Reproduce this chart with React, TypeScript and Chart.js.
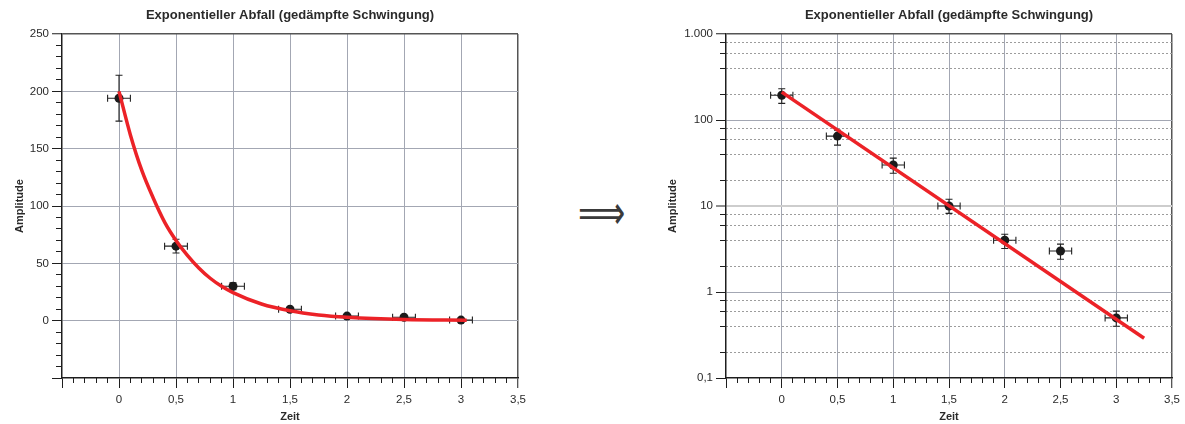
import React, { useEffect, useRef } from "react";
import { Chart, registerables } from "chart.js";

Chart.register(...registerables);

// ---------- text ----------
const TITLE = "Exponentieller Abfall (gedämpfte Schwingung)";
const X_TITLE = "Zeit";
const Y_TITLE = "Amplitude";
const ARROW = "⟹";

// ---------- measured data ----------
const times = [0, 0.5, 1, 1.5, 2, 2.5, 3];
const amplitudes = [194, 65, 30, 10, 4, 3, 0.5];
const timeErrors = [0.1, 0.1, 0.1, 0.1, 0.1, 0.1, 0.1];
// linear chart: symmetric amplitude errors
const linearAmpErrors = [20, 6, 3, 1, 0.6, 0.5, 0.1];
// log chart: lower / upper ends of the amplitude error bars
const logAmpLower = [156, 51, 24, 8.2, 3.2, 2.4, 0.4];
const logAmpUpper = [231, 76, 36, 12, 4.7, 3.6, 0.6];

// ---------- fitted curves ----------
const fitTimesLinear = [0, 0.1, 0.2, 0.3, 0.4, 0.5, 0.6, 0.7, 0.8, 0.9, 1, 1.25, 1.5, 1.75, 2, 2.5, 3.05];
const fitValuesLinear = [200, 162, 131, 107, 86, 70, 57, 46, 37, 30, 24.5, 14.5, 8.6, 5, 3, 1, 0.4];
const fitTimesLog = [0, 3.25];
const fitValuesLog = [211, 0.29];

// ---------- ticks ----------
const xMajorTicks = [-0.5, 0, 0.5, 1, 1.5, 2, 2.5, 3, 3.5];
const xTickLabels = ["", "0", "0,5", "1", "1,5", "2", "2,5", "3", "3,5"];
const yLinearTicks = [-50, 0, 50, 100, 150, 200, 250];
const yLinearLabels = ["", "0", "50", "100", "150", "200", "250"];
const yLogTicks = [0.1, 1, 10, 100, 1000];
const yLogLabels = ["0,1", "1", "10", "100", "1.000"];
const yLogMinorTicks = [0.2, 0.4, 0.6, 0.8, 2, 4, 6, 8, 20, 40, 60, 80, 200, 400, 600, 800];
const X_MINOR_STEP = 0.1;
const Y_LINEAR_MINOR_STEP = 10;

// ---------- style ----------
const FONT = "'Liberation Sans', Arial, Helvetica, sans-serif";
const GRID = "#a3a7b3";
const FRAME = "#555555";
const AXIS = "#1e1e1e";
const RED = "#ec2227";
const POINT = "#1b1b1b";
const TEXT = "#2a2a2a";

function minorValues(min: number, max: number, step: number, majorStep: number) {
  const out: number[] = [];
  const n = Math.round((max - min) / step);
  for (let i = 0; i <= n; i++) {
    const v = +(min + i * step).toFixed(6);
    const r = v / majorStep;
    if (Math.abs(r - Math.round(r)) > 1e-6) out.push(v);
  }
  return out;
}

const errorBarPlugin = {
  id: "errorBars",
  beforeDatasetsDraw(chart: any, _args: any, opts: any) {
    const { ctx, scales } = chart;
    const xs = scales.x;
    const ys = scales.y;
    const lower: number[] = opts.lower;
    const upper: number[] = opts.upper;
    const cap = 3.5;
    ctx.save();
    ctx.strokeStyle = "#222";
    ctx.lineWidth = 1.1;
    for (let i = 0; i < times.length; i++) {
      const px = xs.getPixelForValue(times[i]);
      const py = ys.getPixelForValue(amplitudes[i]);
      const xl = xs.getPixelForValue(times[i] - timeErrors[i]);
      const xr = xs.getPixelForValue(times[i] + timeErrors[i]);
      const yl = ys.getPixelForValue(lower[i]);
      const yu = ys.getPixelForValue(upper[i]);
      ctx.beginPath();
      ctx.moveTo(xl, py); ctx.lineTo(xr, py);
      ctx.moveTo(xl, py - cap); ctx.lineTo(xl, py + cap);
      ctx.moveTo(xr, py - cap); ctx.lineTo(xr, py + cap);
      ctx.moveTo(px, yl); ctx.lineTo(px, yu);
      ctx.moveTo(px - cap, yl); ctx.lineTo(px + cap, yl);
      ctx.moveTo(px - cap, yu); ctx.lineTo(px + cap, yu);
      ctx.stroke();
    }
    ctx.restore();
  },
};

function buildConfig(kind: "linear" | "log", yAxisWidth: number, padRight: number): any {
  const isLog = kind === "log";
  const tickFont = { family: FONT, size: 11.5 };
  const titleFont = { family: FONT, size: 11, weight: "bold" as const };
  const xMinor = minorValues(-0.5, 3.5, X_MINOR_STEP, 0.5);
  const yMinor = isLog ? yLogMinorTicks : minorValues(-50, 250, Y_LINEAR_MINOR_STEP, 50);
  const yMajor = isLog ? yLogTicks : yLinearTicks;
  const yLabels = isLog ? yLogLabels : yLinearLabels;
  const yMin = isLog ? 0.1 : -50;
  const yMax = isLog ? 1000 : 250;

  const fitT = isLog ? fitTimesLog : fitTimesLinear;
  const fitV = isLog ? fitValuesLog : fitValuesLinear;

  const lower = isLog ? logAmpLower : amplitudes.map((a, i) => a - linearAmpErrors[i]);
  const upper = isLog ? logAmpUpper : amplitudes.map((a, i) => a + linearAmpErrors[i]);

  const xGridColor = (c: any) => {
    const v = c.tick ? c.tick.value : null;
    if (v === -0.5) return "rgba(0,0,0,0)";
    if (v === 3.5) return FRAME;
    return GRID;
  };
  const yGridColor = (c: any) => {
    const v = c.tick ? c.tick.value : null;
    if (v === yMin) return "rgba(0,0,0,0)";
    if (v === yMax) return FRAME;
    if (isLog && v === 10) return "#cdcdcd";
    return GRID;
  };
  const yGridWidth = (c: any) => {
    const v = c.tick ? c.tick.value : null;
    if (v === yMax) return 1.5;
    if (isLog && v === 10) return 2;
    return 1;
  };
  const xGridWidth = (c: any) => {
    const v = c.tick ? c.tick.value : null;
    if (v === 3.5) return 1.5;
    return 1;
  };

  return {
    type: "scatter",
    data: {
      datasets: [
        {
          type: "line",
          label: "fit",
          data: fitT.map((t, i) => ({ x: t, y: fitV[i] })),
          borderColor: RED,
          borderWidth: 3.5,
          pointRadius: 0,
          fill: false,
          cubicInterpolationMode: "monotone",
          order: 0,
          xAxisID: "x",
          yAxisID: "y",
        },
        {
          type: "scatter",
          label: "Messwerte",
          data: times.map((t, i) => ({ x: t, y: amplitudes[i] })),
          backgroundColor: POINT,
          borderWidth: 0,
          pointRadius: 4.5,
          order: 1,
          xAxisID: "x",
          yAxisID: "y",
        },
      ],
    },
    options: {
      responsive: false,
      animation: false,
      devicePixelRatio: 1,
      layout: { padding: { left: 0, right: padRight, top: 0, bottom: 0 } },
      plugins: {
        legend: { display: false },
        tooltip: { enabled: false },
        title: {
          display: true,
          text: TITLE,
          fullSize: false,
          color: TEXT,
          font: { family: FONT, size: 13, weight: "bold" },
          padding: { top: 7.5, bottom: 10.9 },
        },
        errorBars: { lower, upper },
      },
      scales: {
        x: {
          type: "linear",
          position: "bottom",
          weight: 1,
          min: -0.5,
          max: 3.5,
          afterBuildTicks: (s: any) => { s.ticks = xMajorTicks.map((v) => ({ value: v })); },
          afterFit: (s: any) => { s.height = 46; },
          ticks: {
            autoSkip: false,
            maxRotation: 0,
            color: TEXT,
            font: tickFont,
            padding: 5,
            callback: (_v: any, i: number) => xTickLabels[i],
          },
          grid: { color: xGridColor, lineWidth: xGridWidth, tickLength: 10, tickColor: AXIS, tickWidth: 1 },
          border: { display: true, color: AXIS, width: 1.5 },
          title: { display: true, text: X_TITLE, color: TEXT, font: titleFont, padding: { top: 0, bottom: 0 } },
        },
        xm: {
          type: "linear",
          position: "bottom",
          weight: 0,
          min: -0.5,
          max: 3.5,
          afterBuildTicks: (s: any) => { s.ticks = xMinor.map((v) => ({ value: v })); },
          afterFit: (s: any) => { s.height = 0; },
          ticks: { display: false },
          grid: { drawOnChartArea: false, tickLength: 5, tickColor: AXIS, tickWidth: 1 },
          border: { display: false },
        },
        y: {
          type: isLog ? "logarithmic" : "linear",
          position: "left",
          weight: 1,
          min: yMin,
          max: yMax,
          afterBuildTicks: (s: any) => { s.ticks = yMajor.map((v) => ({ value: v })); },
          afterFit: (s: any) => { s.width = yAxisWidth; },
          ticks: {
            autoSkip: false,
            color: TEXT,
            font: tickFont,
            padding: 3,
            callback: (_v: any, i: number) => yLabels[i],
          },
          grid: { color: yGridColor, lineWidth: yGridWidth, tickLength: 10, tickColor: AXIS, tickWidth: 1 },
          border: { display: true, color: AXIS, width: 1.5 },
          title: { display: true, text: Y_TITLE, color: TEXT, font: titleFont, padding: { top: 13.4, bottom: 0 } },
        },
        ym: {
          type: isLog ? "logarithmic" : "linear",
          position: "left",
          weight: 0,
          min: yMin,
          max: yMax,
          afterBuildTicks: (s: any) => { s.ticks = yMinor.map((v) => ({ value: v })); },
          afterFit: (s: any) => { s.width = 0; },
          ticks: { display: false },
          grid: {
            drawOnChartArea: isLog,
            color: "#9c9c9c",
            lineWidth: 1,
            tickLength: 6,
            tickColor: AXIS,
            tickWidth: 1,
          },
          border: { display: false, dash: [2, 2] },
        },
      },
    },
    plugins: [errorBarPlugin],
  };
}

function ChartCanvas(props: { kind: "linear" | "log"; width: number; height: number; yAxisWidth: number; padRight: number }) {
  const ref = useRef<HTMLCanvasElement | null>(null);
  useEffect(() => {
    if (!ref.current) return;
    const chart = new Chart(ref.current, buildConfig(props.kind, props.yAxisWidth, props.padRight));
    return () => chart.destroy();
  }, [props.kind, props.yAxisWidth, props.padRight]);
  return (
    <canvas
      ref={ref}
      width={props.width}
      height={props.height}
      style={{ width: props.width, height: props.height, display: "block" }}
    />
  );
}

export default function App() {
  return (
    <div style={{ position: "fixed", left: 0, top: 0, width: 1185, height: 424, background: "#fff", overflow: "hidden" }}>
      <div style={{ position: "absolute", left: 0, top: 0 }}>
        <ChartCanvas kind="linear" width={545} height={424} yAxisWidth={62} padRight={27} />
      </div>
      <div
        style={{
          position: "absolute",
          left: 578,
          top: 196,
          fontFamily: "'DejaVu Sans', sans-serif",
          fontSize: 33,
          lineHeight: "34px",
          height: 34,
          color: "#3a3a3a",
          transform: "scaleY(1.45)",
          transformOrigin: "50% 50%",
        }}
      >
        {ARROW}
      </div>
      <div style={{ position: "absolute", left: 653, top: 0 }}>
        <ChartCanvas kind="log" width={532} height={424} yAxisWidth={73} padRight={11} />
      </div>
    </div>
  );
}
